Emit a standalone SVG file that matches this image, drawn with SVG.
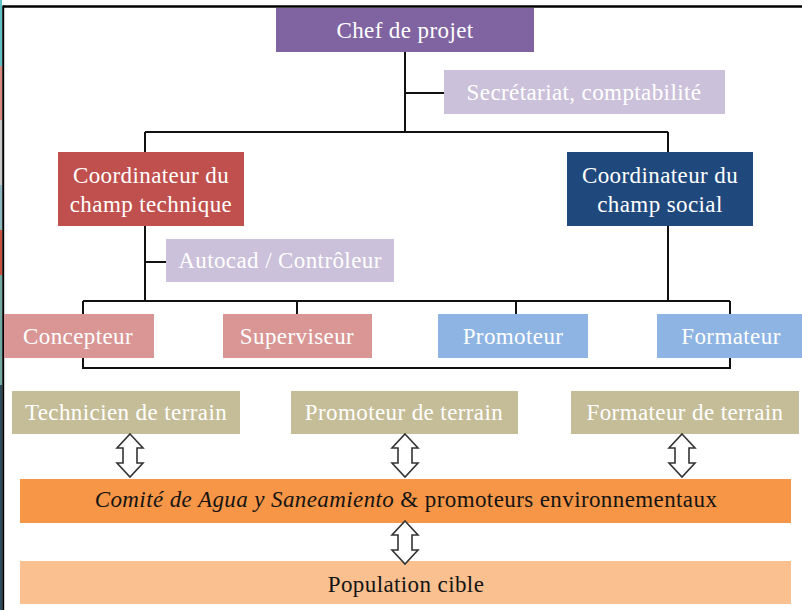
<svg xmlns="http://www.w3.org/2000/svg" width="802" height="610" viewBox="0 0 802 610">
<defs>
<style>
.t{font-family:"Liberation Serif","Times New Roman",serif;font-size:23px;letter-spacing:0.4px;text-anchor:middle;fill:#ffffff}
.d{fill:#141414}
.ln{stroke:#111;stroke-width:2;fill:none}
.arr{fill:#ffffff;stroke:#333;stroke-width:1.6;stroke-linejoin:miter}
</style>
</defs>
<rect width="802" height="610" fill="#ffffff"/>
<g id="frame">
<rect x="0" y="0" width="2" height="66" fill="#5fc3c6"/>
<rect x="0" y="66" width="2" height="54" fill="#d9897f"/>
<rect x="0" y="120" width="2" height="65" fill="#c9c9c9"/>
<rect x="0" y="185" width="2" height="45" fill="#8fb7c0"/>
<rect x="0" y="230" width="2" height="45" fill="#c9503f"/>
<rect x="0" y="275" width="2" height="110" fill="#6fa9a0"/>
<rect x="0" y="385" width="2" height="225" fill="#2c4a5a"/>
<line x1="3" y1="6.5" x2="802" y2="6.5" stroke="#000" stroke-width="2.5"/>
<line x1="3.2" y1="5.5" x2="3.2" y2="610" stroke="#000" stroke-width="2"/>
</g>
<g id="connectors">
<path class="ln" d="M405 52 V132 M405 93 H444 M145 132 H668 M145 132 V152 M668 132 V152"/>
<path class="ln" d="M145 226 V301 M145 262 H166 M668 226 V301"/>
<path class="ln" d="M83 301 H730 M83 301 V368 H730 V301 M297 301 V314 M516 301 V314"/>
</g>
<g id="chef"><rect x="276" y="8" width="258" height="44" fill="#8064a2"/><text class="t" x="405" y="38">Chef de projet</text></g>
<g id="secretariat"><rect x="444" y="70" width="281" height="44" fill="#ccc1da"/><text class="t" x="584" y="100">Secrétariat, comptabilité</text></g>
<g id="coord-technique"><rect x="58" y="152" width="186" height="74" fill="#c0504d"/><text class="t" x="151" y="183">Coordinateur du</text><text class="t" x="151" y="212">champ technique</text></g>
<g id="coord-social"><rect x="567" y="152" width="186" height="74" fill="#1f497d"/><text class="t" x="660" y="183">Coordinateur du</text><text class="t" x="660" y="212">champ social</text></g>
<g id="autocad"><rect x="166" y="239" width="228" height="43" fill="#ccc1da"/><text class="t" x="280" y="268">Autocad / Contrôleur</text></g>
<g id="concepteur"><rect x="4" y="314" width="150" height="44" fill="#d99694"/><text class="t" x="78" y="344">Concepteur</text></g>
<g id="superviseur"><rect x="223" y="314" width="149" height="44" fill="#d99694"/><text class="t" x="297" y="344">Superviseur</text></g>
<g id="promoteur"><rect x="438" y="314" width="150" height="44" fill="#8eb4e3"/><text class="t" x="513" y="344">Promoteur</text></g>
<g id="formateur"><rect x="657" y="314" width="145" height="44" fill="#8eb4e3"/><text class="t" x="731" y="344">Formateur</text></g>
<g id="technicien-terrain"><rect x="12" y="391" width="228" height="43" fill="#c4bd97"/><text class="t" x="126" y="420">Technicien de terrain</text></g>
<g id="promoteur-terrain"><rect x="291" y="391" width="227" height="43" fill="#c4bd97"/><text class="t" x="404" y="420">Promoteur de terrain</text></g>
<g id="formateur-terrain"><rect x="571" y="391" width="228" height="43" fill="#c4bd97"/><text class="t" x="685" y="420">Formateur de terrain</text></g>
<g id="comite"><rect x="20" y="479" width="771" height="44" fill="#f79646"/><text class="t d" x="406" y="507"><tspan font-style="italic">Comité de Agua y Saneamiento</tspan> &amp; promoteurs environnementaux</text></g>
<g id="population"><rect x="20" y="561" width="771" height="43" fill="#fac090"/><text class="t d" x="406" y="592">Population cible</text></g>
<g id="arrows">
<path class="arr" d="M130 434 L143 448 L137 448 L137 463 L143 463 L130 477 L117 463 L123 463 L123 448 L117 448 Z"/>
<path class="arr" d="M405 434 L418 448 L412 448 L412 463 L418 463 L405 477 L392 463 L398 463 L398 448 L392 448 Z"/>
<path class="arr" d="M682 434 L695 448 L689 448 L689 463 L695 463 L682 477 L669 463 L675 463 L675 448 L669 448 Z"/>
<path class="arr" d="M405 521 L418 535 L412 535 L412 550 L418 550 L405 564 L392 550 L398 550 L398 535 L392 535 Z"/>
</g>
</svg>
